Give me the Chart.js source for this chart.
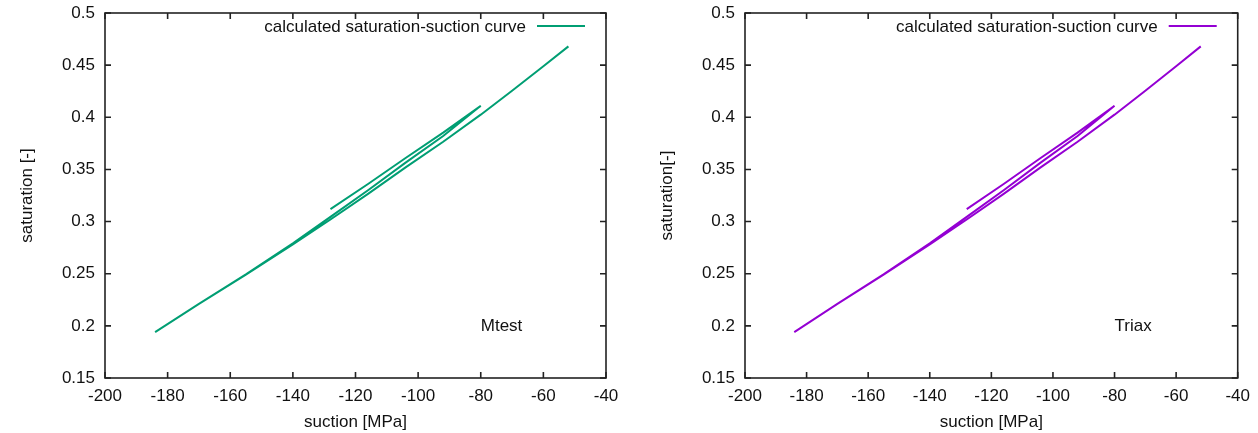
<!DOCTYPE html>
<html>
<head>
<meta charset="utf-8">
<script src="https://cdn.jsdelivr.net/npm/chart.js@4.4.1/dist/chart.umd.min.js"></script>
<style>
  body { margin: 0; background: #fff; }
  #wrap { display: flex; width: 1258px; height: 433px; }
  canvas { display: block; }
</style>
</head>
<body>
<div id="wrap">
  <canvas id="mtest" width="629" height="433"></canvas>
  <canvas id="triax" width="629" height="433"></canvas>
</div>
<script>
// axis ticks
const suctionTicks = [-200, -180, -160, -140, -120, -100, -80, -60, -40];
const saturationTicks = [0.15, 0.2, 0.25, 0.3, 0.35, 0.4, 0.45, 0.5];

// saturation path: scanning loop -128 -> -80, back down to -184, then main branch up to -52
const suction = [-128, -116, -104, -92, -80,
                 -92, -104, -116, -128, -140, -155, -170, -184,
                 -170, -155, -140, -128, -116, -104, -92, -80, -70, -60, -52];
const saturation = [0.312, 0.336, 0.361, 0.3853, 0.411,
                    0.382, 0.3565, 0.330, 0.3045, 0.2792, 0.2493, 0.2211, 0.194,
                    0.221, 0.249, 0.278, 0.302, 0.3265, 0.352, 0.3765, 0.4025, 0.4255, 0.449, 0.468];

const FONT = "'Liberation Sans', Arial, Helvetica, sans-serif";
const TEXT = '#111';

// box frame, inward ticks on all four sides, key and test label
const gnuplotFrame = {
    id: 'gnuplotFrame',
    afterDatasetsDraw(chart, args, opts) {
        const ctx = chart.ctx;
        const a = chart.chartArea;
        const xs = chart.scales.x, ys = chart.scales.y;
        ctx.save();
        ctx.strokeStyle = '#222';
        ctx.lineWidth = 1.6;
        ctx.strokeRect(a.left, a.top, a.right - a.left, a.bottom - a.top);
        ctx.beginPath();
        xs.ticks.forEach(t => {
            const px = xs.getPixelForValue(t.value);
            ctx.moveTo(px, a.bottom); ctx.lineTo(px, a.bottom - 6);
            ctx.moveTo(px, a.top); ctx.lineTo(px, a.top + 6);
        });
        ys.ticks.forEach(t => {
            const py = ys.getPixelForValue(t.value);
            ctx.moveTo(a.left, py); ctx.lineTo(a.left + 6, py);
            ctx.moveTo(a.right, py); ctx.lineTo(a.right - 6, py);
        });
        ctx.stroke();

        // key
        ctx.font = '17px ' + FONT;
        ctx.fillStyle = TEXT;
        ctx.textAlign = 'right';
        ctx.textBaseline = 'middle';
        ctx.fillText(opts.key, a.right - 80, a.top + 14);
        ctx.strokeStyle = opts.color;
        ctx.lineWidth = 2;
        ctx.beginPath();
        ctx.moveTo(a.right - 69, a.top + 13);
        ctx.lineTo(a.right - 21, a.top + 13);
        ctx.stroke();

        // test name
        ctx.textAlign = 'left';
        ctx.fillText(opts.label, xs.getPixelForValue(-80), ys.getPixelForValue(0.2));
        ctx.restore();
    }
};

function criarGrafico(id, color, yTitle, yTitlePad, yWidth, padRight, label) {
    const ctx = document.getElementById(id);
    const points = suction.map((s, i) => ({ x: s, y: saturation[i] }));
    return new Chart(ctx, {
        type: 'scatter',
        data: {
            datasets: [{
                label: 'calculated saturation-suction curve',
                data: points,
                showLine: true,
                borderColor: color,
                backgroundColor: color,
                borderWidth: 2,
                pointRadius: 0,
                tension: 0
            }]
        },
        options: {
            responsive: false,
            animation: false,
            layout: { padding: { top: 13, right: padRight, bottom: 0, left: 0 } },
            scales: {
                x: {
                    type: 'linear',
                    min: -200,
                    max: -40,
                    afterBuildTicks: (scale) => { scale.ticks = suctionTicks.map(v => ({ value: v })); },
                    afterFit: (scale) => { scale.height = 55; },
                    grid: { display: false, drawTicks: false },
                    border: { display: false },
                    ticks: {
                        padding: 8,
                        color: TEXT,
                        maxRotation: 0,
                        font: { size: 17, family: FONT },
                        callback: (v) => String(v)
                    },
                    title: {
                        display: true,
                        text: 'suction [MPa]',
                        color: TEXT,
                        padding: { top: 0, bottom: 0 },
                        font: { size: 17, family: FONT }
                    }
                },
                y: {
                    type: 'linear',
                    min: 0.15,
                    max: 0.5,
                    afterBuildTicks: (scale) => { scale.ticks = saturationTicks.map(v => ({ value: v })); },
                    afterFit: (scale) => {
                        scale.width = yWidth;
                        scale.paddingTop = 0;
                        scale.paddingBottom = 0;
                    },
                    grid: { display: false, drawTicks: false },
                    border: { display: false },
                    ticks: {
                        padding: 10,
                        color: TEXT,
                        font: { size: 17, family: FONT },
                        callback: (v) => String(v)
                    },
                    title: {
                        display: true,
                        text: yTitle,
                        color: TEXT,
                        padding: { top: yTitlePad, bottom: 0 },
                        font: { size: 17, family: FONT }
                    }
                }
            },
            plugins: {
                legend: { display: false },
                tooltip: { enabled: false },
                gnuplotFrame: {
                    key: 'calculated saturation-suction curve',
                    color: color,
                    label: label
                }
            }
        },
        plugins: [gnuplotFrame]
    });
}

criarGrafico('mtest', '#009e73', 'saturation [-]', 17, 105, 23, 'Mtest');
criarGrafico('triax', '#9400d3', 'saturation[-]', 28, 116, 12, 'Triax');
</script>
</body>
</html>
